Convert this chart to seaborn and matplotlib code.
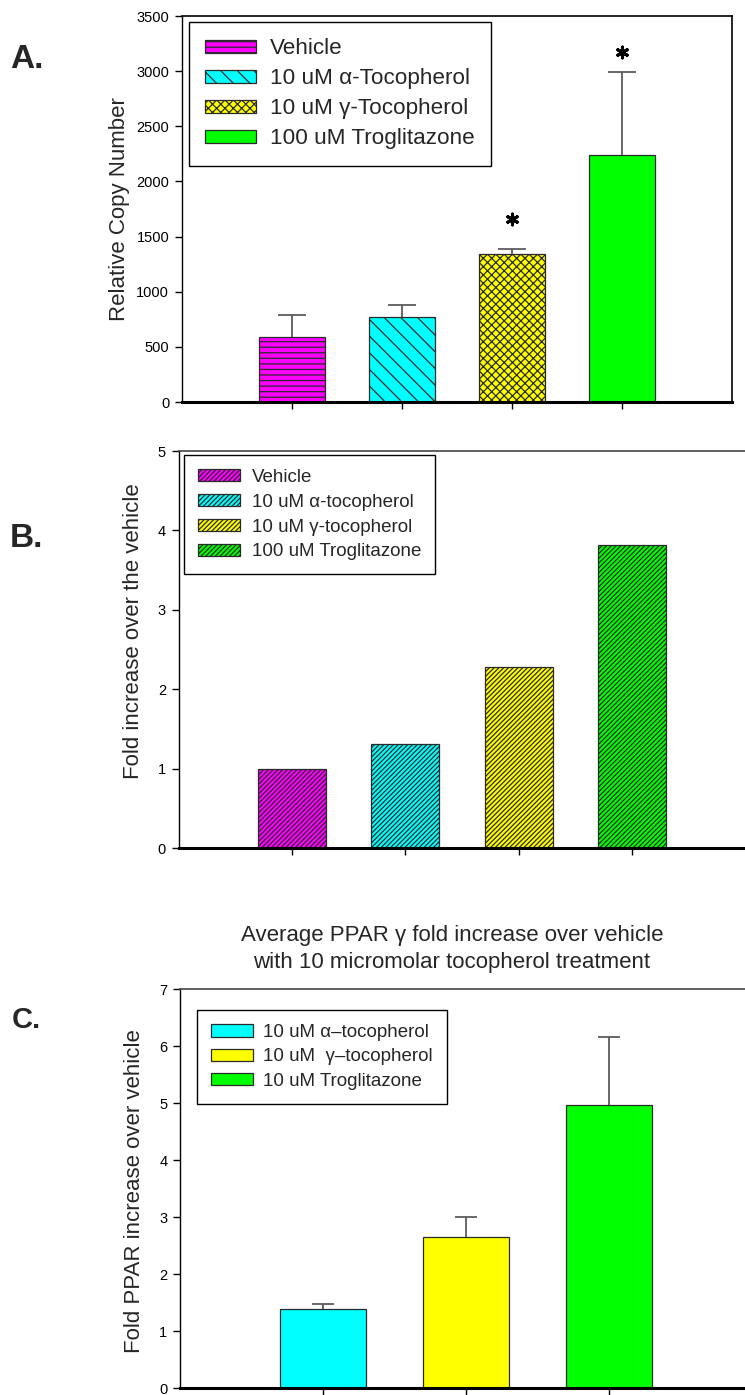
import matplotlib
matplotlib.use("Agg")
import matplotlib.pyplot as plt
import seaborn as sns
import numpy as np
import pandas as pd

# ---- panel A: relative copy number ----
a_labels = ["Vehicle", "10 uM α-Tocopherol", "10 uM γ-Tocopherol", "100 uM Troglitazone"]
a_values = [586, 768, 1342, 2239]
a_errors = [200, 109, 42, 753]
a_star_x = [2, 3]
a_star_y = [1660, 3175]
a_ylabel = "Relative Copy Number"
a_yticks = [0, 500, 1000, 1500, 2000, 2500, 3000, 3500]

# ---- panel B: fold increase ----
b_labels = ["Vehicle", "10 uM α-tocopherol", "10 uM γ-tocopherol", "100 uM Troglitazone"]
b_values = [1.0, 1.31, 2.28, 3.82]
b_ylabel = "Fold increase over the vehicle"
b_yticks = [0, 1, 2, 3, 4, 5]

# ---- panel C: average PPAR gamma fold increase ----
c_title = "Average PPAR γ fold increase over vehicle\nwith 10 micromolar tocopherol treatment"
c_labels = ["10 uM α–tocopherol", "10 uM  γ–tocopherol", "10 uM Troglitazone"]
c_values = [1.38, 2.65, 4.97]
c_errors = [0.10, 0.35, 1.19]
c_ylabel = "Fold PPAR increase over vehicle"
c_yticks = [0, 1, 2, 3, 4, 5, 6, 7]

colors4 = ["#ff00ff", "#00ffff", "#ffff00", "#00ff00"]
colors3 = ["#00ffff", "#ffff00", "#00ff00"]
a_hatches = ["---", "\\\\", "xxxx", ""]
b_hatches = ["///////"] * 4
c_hatches = [""] * 3

sns.set_style("ticks")
plt.rcParams["font.family"] = ["Liberation Sans", "DejaVu Sans"]
plt.rcParams["hatch.linewidth"] = 0.9

EDGE = "#2a2a2a"


def draw_panel(ax, labels, values, colors, hatches, errors=None, capsize=9):
    df = pd.DataFrame({"group": labels, "value": values})
    sns.barplot(data=df, x="group", y="value", hue="group", palette=colors,
                width=0.6, saturation=1, edgecolor=EDGE, linewidth=0.9,
                legend=False, ax=ax)
    bars = list(ax.patches)
    for bar, h in zip(bars, hatches):
        bar.set_hatch(h)
    if errors is not None:
        x = np.arange(len(values))
        _, caps, _ = ax.errorbar(x, values, yerr=[np.zeros(len(errors)), errors],
                                 fmt="none", ecolor="#5c5c5c", elinewidth=1.3,
                                 capsize=capsize, capthick=1.3)
        caps[0].set_visible(False)  # only the upper cap, like the original
    n = len(values)
    ax.set_xlim(-1, n)
    ax.set_xticks(range(n))
    ax.set_xticklabels([])
    ax.set_xlabel("")
    ax.tick_params(axis="both", direction="out", length=5, width=1, color="black",
                   labelsize=10.5, pad=4, labelcolor="black")
    ax.spines["bottom"].set_linewidth(2.2)
    ax.spines["bottom"].set_color("black")
    ax.spines["left"].set_linewidth(1.0)
    ax.spines["left"].set_color("black")
    for s in ["top", "right"]:
        ax.spines[s].set_visible(True)
        ax.spines[s].set_linewidth(1.2)
        ax.spines[s].set_color("#444444")
    return bars


def style_legend(ax, bars, labels, anchor, size, hlen, hheight, tpad, bpad, lspace):
    leg = ax.legend(handles=bars, labels=labels, loc="upper left", bbox_to_anchor=anchor,
                    borderaxespad=0, fontsize=size, handlelength=hlen,
                    handleheight=hheight, handletextpad=tpad, borderpad=bpad,
                    labelspacing=lspace, frameon=True, fancybox=False,
                    edgecolor="black", framealpha=1)
    leg.get_frame().set_linewidth(1.0)
    return leg


fig = plt.figure(figsize=(7.45, 13.95), dpi=100)

# panel A
ax_a = fig.add_axes([0.2439, 0.7118, 0.7383, 0.2767])
bars_a = draw_panel(ax_a, a_labels, a_values, colors4, a_hatches, a_errors, capsize=10)
ax_a.scatter(a_star_x, a_star_y, marker=(6, 2, 0), s=60, color="black", linewidths=2.2, zorder=5)
ax_a.set_ylim(0, 3500)
ax_a.set_yticks(a_yticks)
ax_a.spines["top"].set_color("black")
ax_a.spines["right"].set_color("black")
ax_a.set_ylabel(a_ylabel, fontsize=16)
ax_a.yaxis.set_label_coords(-0.114, 0.5)
ax_a.yaxis.label.set_va("center")
style_legend(ax_a, bars_a, a_labels, (0.0133, 0.984), 16.2, 2.25, 0.48, 0.62, 0.72, 0.4)

# panel B
ax_b = fig.add_axes([0.2396, 0.3921, 0.7611, 0.2846])
bars_b = draw_panel(ax_b, b_labels, b_values, colors4, b_hatches)
ax_b.set_ylim(0, 5)
ax_b.set_yticks(b_yticks)
ax_b.set_ylabel(b_ylabel, fontsize=16)
ax_b.yaxis.set_label_coords(-0.079, 0.547)
ax_b.yaxis.label.set_va("center")
style_legend(ax_b, bars_b, b_labels, (0.0097, 0.990), 13.5, 2.27, 0.64, 0.61, 0.74, 0.42)

# panel C
ax_c = fig.add_axes([0.2416, 0.0050, 0.7678, 0.2860])
bars_c = draw_panel(ax_c, c_labels, c_values, colors3, c_hatches, c_errors, capsize=8)
ax_c.set_ylim(0, 7)
ax_c.set_yticks(c_yticks)
ax_c.set_ylabel(c_ylabel, fontsize=16)
ax_c.yaxis.set_label_coords(-0.080, 0.494)
ax_c.yaxis.label.set_va("center")
style_legend(ax_c, bars_c, c_labels, (0.0297, 0.947), 13.5, 2.24, 0.64, 0.55, 0.75, 0.38)
fig.text(452 / 745, 0.3197, c_title, ha="center", va="center", fontsize=16, linespacing=1.33)

# panel letters
fig.text(0.0134, 0.9513, "A.", fontsize=24, fontweight="bold", va="baseline")
fig.text(0.0134, 0.6079, "B.", fontsize=24, fontweight="bold", va="baseline")
fig.text(0.0160, 0.2631, "C.", fontsize=21, fontweight="bold", va="baseline")

fig.savefig("out.png", dpi=100)
